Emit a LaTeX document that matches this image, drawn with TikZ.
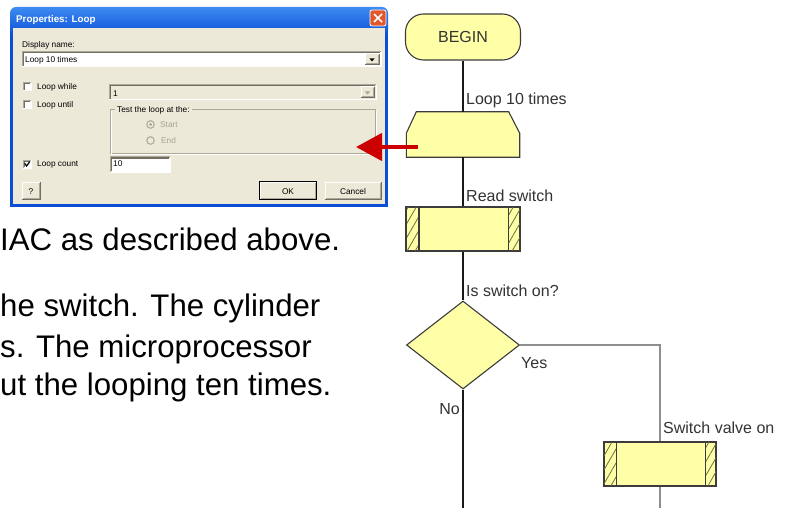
\documentclass[tikz,border=0pt]{standalone}
\usepackage{fontspec}
\setmainfont{Liberation Sans}
\usetikzlibrary{shapes.geometric,patterns.meta,arrows.meta,calc}
\definecolor{fcyel}{HTML}{FFFFA8}
\definecolor{fcline}{HTML}{3C3C3C}
\definecolor{hatchc}{HTML}{6E6E3C}
\definecolor{xpbeige}{HTML}{ECE9D8}
\definecolor{xpblue}{HTML}{0A4FD6}
\definecolor{xpblueL}{HTML}{3D8BF2}
\definecolor{xpshadow}{HTML}{ACA899}
\definecolor{xpdark}{HTML}{716F64}
\definecolor{xpgrey}{HTML}{A6A391}
\definecolor{closered}{HTML}{E2582C}
\definecolor{arrowred}{HTML}{CC0000}
\definecolor{fgray}{HTML}{8E8E8E}
\newcommand\fclabfont{\fontsize{16}{18}\selectfont}
\newcommand\xpfield[5]{%
  \fill[#5] (#1,#2) rectangle (#3,#4);
  \draw[xpshadow,line width=1pt] (#1,#4) -- (#1,#2) -- (#3,#2);
  \draw[xpdark,line width=1pt] (#1+1,#4-1) -- (#1+1,#2+1) -- (#3-1,#2+1);
  \draw[white,line width=1pt] (#1,#4) -- (#3,#4) -- (#3,#2);}
\newcommand\xpbutton[4]{%
  \fill[xpbeige] (#1,#2) rectangle (#3,#4);
  \draw[white,line width=1pt] (#1,#4) -- (#1,#2) -- (#3,#2);
  \draw[xpdark,line width=1pt] (#1,#4) -- (#3,#4) -- (#3,#2);
  \draw[xpshadow,line width=1pt] (#1+1,#4-1) -- (#3-1,#4-1) -- (#3-1,#2+1);}
\begin{document}
\begin{tikzpicture}[x=1pt,y=-1pt,
  fc/.style={draw=fcline,fill=fcyel,line width=1.1pt},
  conn/.style={draw=black!90,line width=1.3pt},
  conng/.style={draw=fgray,line width=1.3pt},
  fclab/.style={font=\fclabfont,text=black!80,inner sep=0},
  dt/.style={font=\fontsize{8.3}{9}\selectfont,inner sep=0,anchor=base west},
  dtc/.style={font=\fontsize{8.3}{9}\selectfont,inner sep=0,anchor=base},
  body/.style={font=\fontsize{31.2}{36}\selectfont,inner sep=0,anchor=base west},
  hatch/.style={pattern={Lines[angle=60,distance=7pt,line width=0.8pt]},pattern color=hatchc}]
\useasboundingbox (0,0) rectangle (795,508);
\fill[white] (0,0) rectangle (795,508);

% ---------------- dialog window ----------------
\fill[xpblue] (10,20) rectangle (388,207);
\shade[top color=xpblueL,bottom color=xpblue,rounded corners=6pt] (10,7) rectangle (388,36);
\fill[xpbeige] (13,28) rectangle (385,204);
\node[font=\bfseries\fontsize{9.8}{11}\selectfont,text=white,inner sep=0,anchor=base west] (title) at (16,22.5) {Properties: Loop};
\fill[closered,draw=white,line width=0.8pt,rounded corners=2pt] (370,10) rectangle (386,26);
\draw[white,line width=1.6pt] (374,14) -- (382,22) (382,14) -- (374,22);

\node[dt] (dname) at (22,48) {Display name:};
\xpfield{22}{52}{381}{67}{white}
\node[dt] (dval) at (25,63) {Loop 10 times};
\xpbutton{365}{54}{379}{65}
\fill (369.5,58.5) -- (374.5,58.5) -- (372,61.5) -- cycle;

\xpfield{23}{83}{31}{91}{white}
\node[dt] (lwhile) at (37,90) {Loop while};
\xpfield{23}{101}{31}{109}{white}
\node[dt] (luntil) at (37,108) {Loop until};

\xpfield{109}{85}{376}{100}{xpbeige}
\node[dt] (one) at (113,97) {1};
\xpbutton{361}{87}{374}{98}
\fill[xpgrey] (365,91.5) -- (370,91.5) -- (367.5,94.5) -- cycle;

\draw[xpshadow,line width=1pt] (110,110) rectangle (375,154);
\draw[white,line width=1pt] (111,111) -- (111,155) -- (376,155) -- (376,111);
\node[dt,fill=xpbeige,inner xsep=2pt,inner ysep=1pt] (tgrp) at (115,113) {Test the loop at the:};
\filldraw[fill=xpbeige,draw=xpshadow,line width=1pt] (150.5,124.5) circle[radius=3.8];
\fill[xpgrey] (150.5,124.5) circle[radius=1.5];
\node[dt,text=xpgrey] (tstart) at (160,128) {Start};
\filldraw[fill=xpbeige,draw=xpshadow,line width=1pt] (150.5,140.5) circle[radius=3.8];
\node[dt,text=xpgrey] (tend) at (161,144) {End};

\xpfield{23}{160}{31}{168}{white}
\draw[line width=1.2pt] (24.8,163.5) -- (26.6,166) -- (29.8,161.6);
\node[dt] (lcount) at (37,167) {Loop count};
\xpfield{110}{157}{170}{172}{white}
\node[dt] (ten) at (113,167) {10};

\xpbutton{22}{182}{40}{199}
\node[dtc] (help) at (31,194) {?};
\xpbutton{260}{182}{316}{199}
\draw[black,line width=1pt] (259.5,181.5) rectangle (316.5,199.5);
\node[dtc] (ok) at (288,194) {OK};
\xpbutton{325}{182}{381}{199}
\node[dtc] (cancel) at (353,194) {Cancel};

% ---------------- body text ----------------
\node[body] (t1) at (0,250) {IAC as described above.};
\node[body] (t2) at (0,316) {he switch. The cylinder};
\node[body] (t3) at (0,357) {s. The microprocessor};
\node[body] (t4) at (0,395) {ut the looping ten times.};

% ---------------- flowchart ----------------
\node[fc,rectangle,rounded corners=18pt,minimum width=115pt,minimum height=46pt,inner sep=0,font=\fclabfont,text=black!80] (begin) at (463,37) {BEGIN};

\node[rectangle,minimum width=113pt,minimum height=45pt,inner sep=0] (loop) at (463,134.5) {};
\draw[fc] (loop.south west) -- ($(loop.south west)+(0,-24)$) -- ($(loop.north west)+(10,0)$) -- ($(loop.north east)+(-11,0)$) -- ($(loop.south east)+(0,-24)$) -- (loop.south east) -- cycle;

\node[fc,rectangle,minimum width=113pt,minimum height=44pt,inner sep=0] (rd) at (463,229) {};
\fill[hatch] (rd.south west) rectangle ($(rd.north west)+(13,0)$);
\fill[hatch] (rd.south east) rectangle ($(rd.north east)+(-12,0)$);
\draw[fcline,line width=1.1pt] ($(rd.north west)+(13,0)$) -- ($(rd.south west)+(13,0)$);
\draw[fcline,line width=1.1pt] ($(rd.north east)+(-12,0)$) -- ($(rd.south east)+(-12,0)$);
\draw[fcline,line width=1.1pt] (rd.south west) rectangle (rd.north east);

\node[fc,diamond,minimum width=113pt,minimum height=88pt,inner sep=0,aspect=1.28] (dia) at (463,345) {};

\node[fc,rectangle,minimum width=112pt,minimum height=44pt,inner sep=0] (sv) at (660,464) {};
\fill[hatch] (sv.south west) rectangle ($(sv.north west)+(13,0)$);
\fill[hatch] (sv.south east) rectangle ($(sv.north east)+(-11,0)$);
\draw[fcline,line width=1.1pt] ($(sv.north west)+(13,0)$) -- ($(sv.south west)+(13,0)$);
\draw[fcline,line width=1.6pt] ($(sv.north east)+(-11,0)$) -- ($(sv.south east)+(-11,0)$);
\draw[fcline,line width=1.1pt] (sv.south west) rectangle (sv.north east);

\coordinate (endA) at (463,508);
\coordinate (endB) at (660,508);
\draw[conn] (begin.south) -- (loop.north);
\draw[conn] (loop.south) -- (rd.north);
\draw[conn] (rd.south) -- (dia.north);
\draw[conn] (dia.south) -- (endA);
\draw[conng] (dia.east) -| (sv.north);
\draw[conng] (sv.south) -- (endB);

\node[fclab,anchor=base west] (l1) at (466,105) {Loop 10 times};
\node[fclab,anchor=base west] (l2) at (466,201) {Read switch};
\node[fclab,anchor=base west] (l3) at (466,296) {Is switch on?};
\node[fclab,anchor=base west] (lyes) at (521,368) {Yes};
\node[fclab,anchor=base east] (lno) at (460,414) {No};
\node[fclab,anchor=base west] (l4) at (663,433) {Switch valve on};

% ---------------- red arrow ----------------
\coordinate (rs) at (418,147);
\coordinate (rt) at (356,147);
\draw[arrowred,line width=4.5pt,-{Triangle[length=26pt,width=27pt]}] (rs) -- (rt);
\end{tikzpicture}
\end{document}
